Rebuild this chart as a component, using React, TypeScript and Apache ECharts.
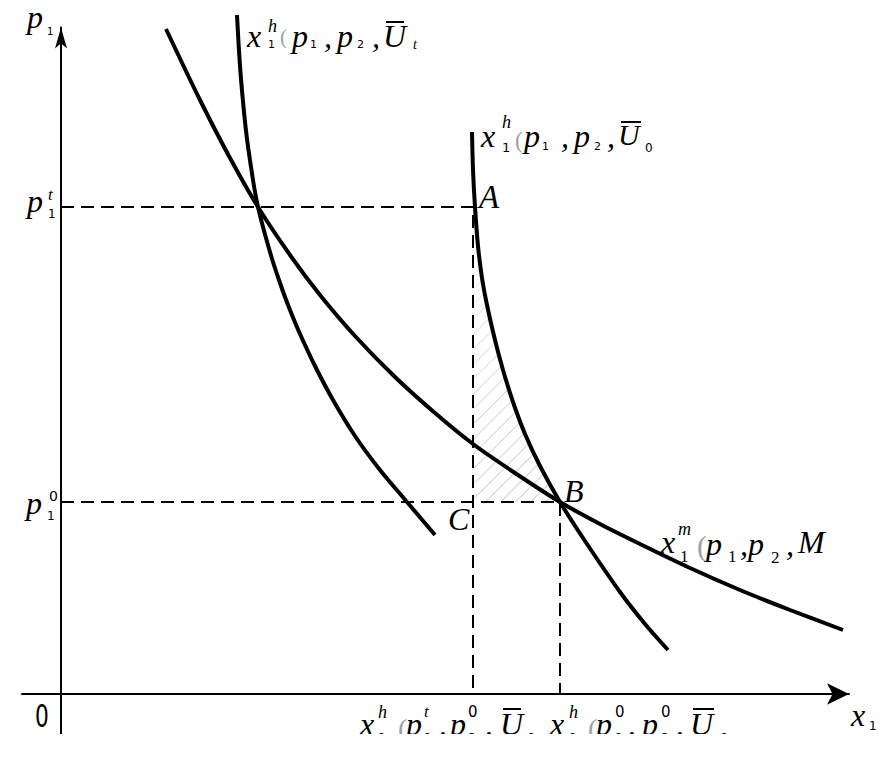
import React, { useEffect, useRef } from 'react';
import * as echarts from 'echarts';

// ---- axis extents (data units) ----
const X_MIN = -3.9;
const X_MAX = 78.8;
const Y_MIN = -4.1;
const Y_MAX = 66.65;

// ---- key prices / quantities ----
const p1t = 48.7; // p1^t
const p10 = 19.2; // p1^0
const x1Comp = 41.2; // x1^h(p1^t, p2^0, U0)
const x1Init = 49.9; // x1^h(p1^0, p2^0, U0)

// ---- curves ----
const hicksUt: [number, number][] = [
  [17.6, 67.9], [17.8, 64.3], [18.0, 61.5], [18.3, 58.2], [18.6, 55.5], [19.0, 52.7],
  [19.4, 50.2], [19.7, 48.7], [20.2, 46.7], [20.7, 44.9], [21.2, 43.2], [21.8, 41.4],
  [22.4, 39.7], [23.1, 37.9], [23.9, 36.0], [25.4, 32.8], [27.2, 29.4], [29.4, 25.8],
  [31.9, 22.4], [34.6, 19.2], [37.4, 15.9],
];
const marshall: [number, number][] = [
  [10.5, 66.5], [13.9, 59.4], [16.9, 53.6], [19.7, 48.7], [22.9, 43.9], [25.9, 39.9],
  [29.4, 35.8], [33.4, 31.7], [37.4, 28.1], [41.2, 25.0], [45.4, 22.1], [49.9, 19.2],
  [53.9, 17.0], [57.9, 15.0], [62.9, 12.6], [67.9, 10.4], [72.9, 8.4], [78.2, 6.4],
];
const hicksU0: [number, number][] = [
  [41.1, 56.2], [41.2, 52.4], [41.4, 48.7], [41.7, 44.8], [42.1, 41.6], [42.6, 38.9],
  [43.4, 35.4], [44.2, 32.4], [45.2, 29.2], [46.4, 26.0], [47.9, 22.8], [49.9, 19.2],
  [52.4, 15.3], [55.9, 10.2], [58.4, 7.0], [60.7, 4.4],
];

// ---- dashed guide lines ----
const guideA: [number, number][] = [[0, p1t], [x1Comp, p1t], [x1Comp, 0]];
const guideB: [number, number][] = [[0, p10], [x1Init, p10], [x1Init, 0]];

// hatched region A-B-C
const hatchPoly: [number, number][] = [
  [x1Comp, p1t],
  ...hicksU0.filter(([, y]) => y <= p1t && y >= p10),
  [x1Comp, p10],
];

// ---- math labels: [text, relX, relBaseline, kind, size] ----
type Part = [string, number, number, string, number];
interface MathLabel { at: [number, number]; dx: number; dy: number; parts: Part[] }

const M = 32; // main glyph size

const labelUt: MathLabel = {
  at: hicksUt[0], dx: 10, dy: 32,
  parts: [
    ['x', 0, 0, 'i', M], ['h', 21, -15, 'i', 18], ['1', 21, 1, 's', 11], ['(', 33, -3, 'g', 21],
    ['p', 45, 0, 'i', M], ['1', 63, 1, 's', 11], [',', 77, 0, 'i', M], ['p', 90, 0, 'i', M],
    ['2', 110, 1, 's', 11], [',', 125, 0, 'i', M], ['U', 136, 0, 'i', M], ['', 139, -25, 'bar', 18],
    ['t', 166, 2, 'i', 14],
  ],
};
const labelU0: MathLabel = {
  at: hicksU0[0], dx: 9, dy: 15,
  parts: [
    ['x', 0, 0, 'i', M], ['h', 21, -19, 'i', 18], ['1', 21, 5, 's', 13], ['(', 34, 1, 'g', 23],
    ['p', 43, 0, 'i', M], ['1', 61, 3, 's', 11], [',', 80, 0, 'i', M], ['p', 93, 0, 'i', M],
    ['2', 113, 3, 's', 11], [',', 126, 0, 'i', M], ['U', 137, -2, 'i', 30], ['', 140, -25, 'bar', 20],
    ['0', 164, 5, 's', 12],
  ],
};
const labelM: MathLabel = {
  at: marshall[14], dx: -29, dy: -15,
  parts: [
    ['x', 0, 0, 'i', M], ['m', 17, -18, 'i', 18], ['1', 19, 9, 'r', 17], ['(', 36, 3, 'g', 30],
    ['p', 45, 2, 'i', M], ['1', 67, 9, 'r', 17], [',', 79, 2, 'i', M], ['p', 87, 2, 'i', M],
    ['2', 110, 10, 'r', 17], [',', 125, 2, 'i', M], ['M', 137, 0, 'i', M],
  ],
};
const labelComp: MathLabel = {
  at: [x1Comp, 0], dx: -113, dy: 41,
  parts: [
    ['x', 0, 0, 'i', M], ['h', 18, -17, 'i', 18], ['1', 18, 7, 's', 13], ['(', 38, 3, 'g', 28],
    ['p', 46, 0, 'i', M], ['t', 64, -18, 'i', 17], ['1', 64, 7, 's', 13], [',', 79, 0, 'i', M],
    ['p', 90, 0, 'i', M], ['0', 108, -18, 's', 15], ['2', 108, 7, 's', 13], [',', 125, 0, 'i', M],
    ['U', 140, 0, 'i', M], ['', 143, -26, 'bar', 18], ['0', 167, 7, 's', 13],
  ],
};
const labelInit: MathLabel = {
  at: [x1Init, 0], dx: -10, dy: 41,
  parts: [
    ['x', 0, 0, 'i', M], ['h', 19, -17, 'i', 18], ['1', 19, 7, 's', 13], ['(', 38, 3, 'g', 28],
    ['p', 46, 0, 'i', M], ['0', 65, -18, 's', 15], ['1', 65, 7, 's', 13], [',', 78, 0, 'i', M],
    ['p', 92, 0, 'i', M], ['0', 111, -18, 's', 15], ['2', 111, 7, 's', 13], [',', 126, 0, 'i', M],
    ['U', 140, 0, 'i', M], ['', 143, -26, 'bar', 21], ['0', 170, 7, 's', 13],
  ],
};
const labelP1t: MathLabel = {
  at: [0, p1t], dx: -34, dy: 5,
  parts: [['p', 0, 0, 'i', M], ['t', 21, -12, 'i', 17], ['1', 21, 6, 's', 12]],
};
const labelP10: MathLabel = {
  at: [0, p10], dx: -35, dy: 12,
  parts: [['p', 0, 0, 'i', M], ['0', 23, -13, 's', 14], ['1', 21, 6, 's', 12]],
};
const labelYName: MathLabel = {
  at: [0, Y_MAX], dx: -34, dy: 0.5,
  parts: [['p', 0, 0, 'i', M], ['1', 20, 7, 's', 10]],
};
const labelXName: MathLabel = {
  at: [X_MAX, 0], dx: 2, dy: 32,
  parts: [['x', 0, 0, 'i', M], ['1', 18, 4, 's', 12]],
};
const labelOrigin: MathLabel = { at: [0, 0], dx: -26, dy: 33, parts: [['0', 0, 0, 'z', 32]] };
const labelA: MathLabel = { at: [x1Comp, p1t], dx: 6, dy: 1, parts: [['A', 0, 0, 'i', 33]] };
const labelB: MathLabel = { at: [x1Init, p10], dx: 4, dy: 0, parts: [['B', 0, 0, 'i', M]] };
const labelC: MathLabel = { at: [x1Comp, p10], dx: -25, dy: 28, parts: [['C', 0, 0, 'i', M]] };

const mathLabels: MathLabel[] = [
  labelUt, labelU0, labelM, labelComp, labelInit, labelP1t, labelP10,
  labelYName, labelXName, labelOrigin, labelA, labelB, labelC,
];

const SERIF = '"Liberation Serif", "Times New Roman", serif';
const SANS = '"DejaVu Sans", sans-serif';

function renderLabel(params: any, api: any) {
  const lab = mathLabels[params.dataIndex];
  const [ax, ay] = api.coord(lab.at);
  const bx = ax + lab.dx;
  const by = ay + lab.dy;
  const children = lab.parts.map(([t, rx, ry, kind, size]) => {
    if (kind === 'bar') {
      return {
        type: 'line',
        shape: { x1: bx + rx, y1: by + ry, x2: bx + rx + size, y2: by + ry },
        style: { stroke: '#000', lineWidth: 2 },
      };
    }
    const sans = kind === 's' || kind === 'z';
    const k = sans ? 0.346 : 0.3375;
    return {
      type: 'text',
      x: bx + rx,
      y: by + ry - k * size,
      scaleX: kind === 'z' ? 0.68 : 1,
      style: {
        text: t,
        x: 0,
        y: 0,
        fontSize: size,
        fontFamily: sans ? SANS : SERIF,
        fontStyle: kind === 'i' ? 'italic' : 'normal',
        fill: kind === 'g' ? '#a0a0a0' : '#000',
        align: 'left',
        verticalAlign: 'middle',
      },
    };
  });
  return { type: 'group', children };
}

function renderHatch(_params: any, api: any) {
  const poly = hatchPoly.map((p) => api.coord(p));
  const sums = poly.map((p: number[]) => p[0] + p[1]);
  const lo = Math.min(...sums);
  const hi = Math.max(...sums);
  const ys = poly.map((p: number[]) => p[1]);
  const yTop = Math.min(...ys);
  const yBot = Math.max(...ys);
  const step = 15;
  const children: any[] = [];
  for (let c = lo + step / 2; c < hi; c += step) {
    const pts: number[][] = [];
    for (let i = 0; i < poly.length; i++) {
      const a = poly[i];
      const b = poly[(i + 1) % poly.length];
      const fa = a[0] + a[1] - c;
      const fb = b[0] + b[1] - c;
      if (fa < 0 !== fb < 0) {
        const t = fa / (fa - fb);
        pts.push([a[0] + t * (b[0] - a[0]), a[1] + t * (b[1] - a[1])]);
      }
    }
    pts.sort((u, v) => u[0] - v[0]);
    for (let k = 0; k + 1 < pts.length; k += 2) {
      const midY = (pts[k][1] + pts[k + 1][1]) / 2;
      const f = (midY - yTop) / (yBot - yTop);
      const g = Math.round(240 - 55 * f);
      children.push({
        type: 'line',
        shape: { x1: pts[k][0], y1: pts[k][1], x2: pts[k + 1][0], y2: pts[k + 1][1] },
        style: { stroke: `rgb(${g},${g},${g})`, lineWidth: 1 },
      });
    }
  }
  return { type: 'group', children };
}

const curveStyle = { color: '#000', width: 4 };
const dashStyle = { color: '#000', width: 2, type: [13, 7] as number[] };

export default function App() {
  const ref = useRef<HTMLDivElement>(null);
  useEffect(() => {
    if (!ref.current) return;
    const chart = echarts.init(ref.current, undefined, { renderer: 'svg' });
    const axisCommon = {
      type: 'value' as const,
      axisLine: {
        show: true,
        onZero: true,
        symbol: ['none', 'arrow'],
        lineStyle: { color: '#000', width: 2 },
      },
      axisTick: { show: false },
      axisLabel: { show: false },
      splitLine: { show: false },
    };
    chart.setOption({
      animation: false,
      backgroundColor: '#fff',
      grid: { left: 22, right: 42, top: 27.5, bottom: 33, containLabel: false, outerBoundsMode: 'none' },
      xAxis: { ...axisCommon, min: X_MIN, max: X_MAX, axisLine: { ...axisCommon.axisLine, symbolSize: [16, 22] } },
      yAxis: { ...axisCommon, min: Y_MIN, max: Y_MAX, axisLine: { ...axisCommon.axisLine, symbolSize: [9, 21] } },
      series: [
        {
          type: 'custom', coordinateSystem: 'cartesian2d', renderItem: renderHatch,
          data: [[x1Comp, p10]], z: 1, silent: true,
        },
        { type: 'line', data: guideA, symbol: 'none', lineStyle: dashStyle, z: 2, clip: false, silent: true },
        { type: 'line', data: guideB, symbol: 'none', lineStyle: dashStyle, z: 2, clip: false, silent: true },
        { type: 'line', data: hicksUt, smooth: 0.3, symbol: 'none', lineStyle: curveStyle, z: 3, clip: false, silent: true },
        { type: 'line', data: marshall, smooth: 0.3, symbol: 'none', lineStyle: curveStyle, z: 3, clip: false, silent: true },
        { type: 'line', data: hicksU0, smooth: 0.3, symbol: 'none', lineStyle: curveStyle, z: 3, clip: false, silent: true },
        {
          type: 'custom', coordinateSystem: 'cartesian2d', renderItem: renderLabel,
          data: mathLabels.map((l) => l.at), z: 5, clip: false, silent: true,
        },
      ],
    });
    return () => chart.dispose();
  }, []);
  return (
    <div style={{ position: 'absolute', left: 0, top: 0, width: 891, height: 734, overflow: 'hidden', background: '#fff' }}>
      <div ref={ref} style={{ width: 891, height: 768 }} />
    </div>
  );
}
